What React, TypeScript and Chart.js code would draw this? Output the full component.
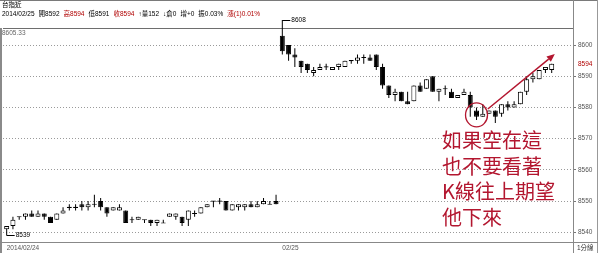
import React, { useEffect, useRef } from "react";
import { Chart, registerables } from "chart.js";
Chart.register(...registerables);

// 1-minute bars: last 44 of 2014/02/24, first 44 of 2014/02/25
const opens = [
  8541, 8542, 8545, 8545, 8546, 8545, 8546, 8545, 8544, 8546,
  8548, 8548, 8549, 8548, 8549, 8550, 8548, 8547, 8547, 8547,
  8544, 8544, 8544, 8544, 8543, 8543, 8545, 8545, 8545, 8544,
  8546, 8546, 8548, 8550, 8550, 8550, 8547, 8548, 8548, 8549,
  8548, 8549, 8549, 8550,
  8603, 8600, 8597, 8595, 8594, 8591, 8592, 8593, 8592, 8593,
  8593, 8595, 8595, 8596, 8596, 8597, 8593, 8587, 8584, 8585,
  8582, 8582, 8587, 8586, 8590, 8585, 8586, 8585, 8583, 8584,
  8584, 8579, 8577, 8578, 8579, 8578, 8581, 8580, 8581, 8585,
  8589, 8589, 8592, 8592,
];
const highs = [
  8542, 8545, 8545, 8546, 8547, 8547, 8546, 8545, 8546, 8548,
  8549, 8549, 8550, 8550, 8552, 8551, 8548, 8548, 8549, 8547,
  8545, 8545, 8544, 8544, 8544, 8544, 8546, 8546, 8545, 8547,
  8547, 8548, 8549, 8550, 8551, 8550, 8549, 8549, 8549, 8550,
  8550, 8551, 8550, 8552,
  8608, 8600, 8599, 8595, 8594, 8593, 8594, 8594, 8593, 8594,
  8595, 8595, 8597, 8597, 8597, 8597, 8594, 8587, 8586, 8585,
  8585, 8587, 8588, 8589, 8590, 8586, 8587, 8586, 8584, 8586,
  8585, 8580, 8581, 8579, 8579, 8581, 8582, 8582, 8585, 8590,
  8591, 8592, 8593, 8594,
];
const lows = [
  8539, 8541, 8544, 8544, 8545, 8545, 8544, 8543, 8544, 8546,
  8547, 8547, 8547, 8547, 8548, 8547, 8545, 8547, 8547, 8543,
  8543, 8544, 8543, 8542, 8542, 8543, 8545, 8544, 8542, 8542,
  8545, 8546, 8548, 8548, 8549, 8547, 8547, 8547, 8547, 8548,
  8548, 8549, 8549, 8549,
  8597, 8595, 8593, 8591, 8591, 8590, 8592, 8592, 8592, 8592,
  8593, 8594, 8594, 8594, 8595, 8592, 8586, 8583, 8582, 8582,
  8581, 8582, 8585, 8586, 8585, 8582, 8584, 8583, 8583, 8584,
  8577, 8576, 8577, 8578, 8575, 8577, 8579, 8580, 8581, 8584,
  8588, 8589, 8591, 8591,
];
const closes = [
  8542, 8544, 8545, 8546, 8545, 8546, 8545, 8543, 8546, 8547,
  8548, 8548, 8548, 8549, 8549, 8548, 8546, 8548, 8548, 8543,
  8544, 8545, 8544, 8543, 8544, 8543, 8546, 8546, 8543, 8547,
  8546, 8548, 8549, 8550, 8550, 8547, 8549, 8549, 8549, 8548,
  8549, 8550, 8549, 8549,
  8598, 8597, 8596, 8593, 8592, 8592, 8593, 8593, 8593, 8594,
  8595, 8595, 8596, 8596, 8595, 8593, 8587, 8584, 8585, 8582,
  8581, 8587, 8585, 8589, 8585, 8586, 8586, 8583, 8584, 8585,
  8580, 8577, 8578, 8579, 8577, 8581, 8580, 8581, 8585, 8589,
  8590, 8592, 8593, 8594,
];
const dateLabels = ["2014/02/24", "02/25"];
const dateStarts = [0, 44];
const priceTicks = [8540, 8550, 8560, 8570, 8580, 8590, 8600];
const refLine = 8605.33;
const noteLines = ["如果空在這", "也不要看著", "K線往上期望", "他下來"];
const circleAt = [75, 8577.6];
const arrowFrom = [76.8, 8579.5];
const arrowTo = [87.5, 8597.1];

const RED = "#b3162f";
const SMALL_FONT = '"Liberation Sans", "Noto Sans CJK TC", sans-serif';

export default function App() {
  const ref = useRef<HTMLCanvasElement>(null);

  useEffect(() => {
    if (!ref.current) return;
    const idx = opens.map((_, i) => i);
    const wickData = idx.map((i) => ({ x: i, y: [lows[i], highs[i]] }));
    const bodyData = idx.map((i) => {
      const o = opens[i];
      const c = closes[i];
      return o === c
        ? { x: i, y: [o - 0.17, o + 0.17] }
        : { x: i, y: [Math.min(o, c), Math.max(o, c)] };
    });
    const bodyFill = idx.map((i) => (closes[i] > opens[i] ? "#ffffff" : "#000000"));
    const maxIdx = highs.indexOf(Math.max(...highs));
    const minIdx = lows.indexOf(Math.min(...lows));
    const last = closes.length - 1;

    const marks = {
      id: "marks",
      beforeDatasetsDraw(chart: any) {
        const { ctx, chartArea, scales } = chart;
        const y = scales.y;
        const yr = Math.round(y.getPixelForValue(refLine)) + 0.5;
        ctx.save();
        ctx.strokeStyle = "#6e6e6e";
        ctx.lineWidth = 1;
        ctx.beginPath();
        ctx.moveTo(chartArea.left, yr);
        ctx.lineTo(chartArea.right, yr);
        ctx.stroke();
        ctx.fillStyle = "#666";
        ctx.font = `6.5px ${SMALL_FONT}`;
        ctx.textBaseline = "top";
        ctx.textAlign = "left";
        ctx.fillText(refLine.toFixed(2), 2, yr + 1.5);
        ctx.restore();
      },
      afterDatasetsDraw(chart: any) {
        const { ctx, chartArea, scales } = chart;
        const x = scales.x;
        const y = scales.y;
        ctx.save();
        ctx.font = `6.5px ${SMALL_FONT}`;
        ctx.textBaseline = "middle";
        ctx.textAlign = "left";
        ctx.strokeStyle = "#000";
        ctx.fillStyle = "#000";
        ctx.lineWidth = 1;
        const hx = x.getPixelForValue(maxIdx);
        const hy = Math.round(y.getPixelForValue(highs[maxIdx])) + 0.5;
        ctx.beginPath();
        ctx.moveTo(hx, hy);
        ctx.lineTo(hx + 8, hy);
        ctx.stroke();
        ctx.fillText(String(highs[maxIdx]), hx + 9, hy);
        const lx = x.getPixelForValue(minIdx);
        const ly = Math.round(y.getPixelForValue(lows[minIdx])) + 0.5;
        ctx.beginPath();
        ctx.moveTo(lx, ly);
        ctx.lineTo(lx + 8, ly);
        ctx.stroke();
        ctx.fillText(String(lows[minIdx]), lx + 9, ly);
        // current price on the axis
        ctx.fillStyle = "#b00000";
        ctx.fillText(String(closes[last]), chartArea.right + 5, y.getPixelForValue(closes[last]));
        // annotation: circle + arrow
        ctx.strokeStyle = RED;
        ctx.fillStyle = RED;
        ctx.lineWidth = 1.3;
        ctx.beginPath();
        ctx.ellipse(x.getPixelForValue(circleAt[0]), y.getPixelForValue(circleAt[1]), 11, 12, 0, 0, Math.PI * 2);
        ctx.stroke();
        const x1 = x.getPixelForValue(arrowFrom[0]);
        const y1 = y.getPixelForValue(arrowFrom[1]);
        const x2 = x.getPixelForValue(arrowTo[0]);
        const y2 = y.getPixelForValue(arrowTo[1]);
        const ang = Math.atan2(y2 - y1, x2 - x1);
        const hl = 8;
        const hw = 3.5;
        ctx.lineWidth = 1.5;
        ctx.beginPath();
        ctx.moveTo(x1, y1);
        ctx.lineTo(x2 - hl * Math.cos(ang), y2 - hl * Math.sin(ang));
        ctx.stroke();
        ctx.beginPath();
        ctx.moveTo(x2, y2);
        ctx.lineTo(x2 - hl * Math.cos(ang) + hw * Math.sin(ang), y2 - hl * Math.sin(ang) - hw * Math.cos(ang));
        ctx.lineTo(x2 - hl * Math.cos(ang) - hw * Math.sin(ang), y2 - hl * Math.sin(ang) + hw * Math.cos(ang));
        ctx.closePath();
        ctx.fill();
        ctx.restore();
      },
    };

    const chart = new Chart(ref.current, {
      type: "bar",
      data: {
        datasets: [
          {
            label: "wick",
            data: wickData as any,
            backgroundColor: "#000",
            borderWidth: 0,
            barThickness: 1,
            grouped: false,
            inflateAmount: 0,
            order: 2,
          } as any,
          {
            label: "body",
            data: bodyData as any,
            backgroundColor: bodyFill,
            borderColor: "#000",
            borderWidth: 1,
            borderSkipped: false,
            barThickness: 5,
            grouped: false,
            inflateAmount: 0,
            order: 1,
          } as any,
        ],
      },
      options: {
        animation: false,
        responsive: false,
        devicePixelRatio: 1,
        layout: { padding: { left: 3, top: 11, right: 0, bottom: 0 } },
        plugins: { legend: { display: false }, tooltip: { enabled: false } },
        scales: {
          x: {
            type: "linear",
            offset: false,
            min: -0.586,
            max: 90.4,
            afterBuildTicks: (s: any) => {
              s.ticks = dateStarts.map((v) => ({ value: v }));
            },
            afterFit: (s: any) => {
              s.height = 11;
            },
            grid: { display: false, drawTicks: false },
            border: { display: true, color: "#888" },
            ticks: {
              align: "start",
              autoSkip: false,
              maxRotation: 0,
              padding: 2,
              color: "#555",
              font: { size: 6.5, family: SMALL_FONT },
              callback: (v: any) => {
                const k = dateStarts.indexOf(Number(v));
                return k >= 0 ? dateLabels[k] : "";
              },
            },
          },
          y: {
            position: "right",
            min: 8536.9,
            max: 8610.9,
            afterBuildTicks: (s: any) => {
              s.ticks = priceTicks.map((v) => ({ value: v }));
            },
            afterFit: (s: any) => {
              s.width = 27;
            },
            grid: {
              color: "#9a9a9a",
              lineWidth: 1,
              drawTicks: true,
              tickLength: 3,
              tickColor: "#777",
              tickBorderDash: [],
            },
            border: { display: true, color: "#888", dash: [1, 2] },
            ticks: {
              autoSkip: false,
              padding: 2,
              color: "#555",
              font: { size: 6.5, family: SMALL_FONT },
              callback: (v: any) => String(v),
            },
          },
        },
      } as any,
      plugins: [marks],
    });
    return () => chart.destroy();
  }, []);

  const line = (style: React.CSSProperties) => (
    <div style={{ position: "absolute", background: "#888", ...style }} />
  );

  return (
    <div
      style={{
        position: "fixed",
        left: 0,
        top: 0,
        width: 600,
        height: 253,
        background: "#fff",
        overflow: "hidden",
      }}
    >
      <canvas ref={ref} width={600} height={253} style={{ position: "absolute", left: 0, top: 0 }} />
      {line({ left: 0, top: 0, width: 598, height: 1, background: "#7a7a7a" })}
      {line({ left: 0, top: 28, width: 2, height: 225, background: "#8a8a8a" })}
      {line({ left: 573, top: 0, width: 1, height: 253 })}
      {line({ left: 597, top: 0, width: 1, height: 253, background: "#999" })}
      {line({ left: 0, top: 242, width: 598, height: 1 })}
      <div
        style={{
          position: "absolute",
          left: 2,
          top: 1,
          fontFamily: SMALL_FONT,
          fontSize: 6.5,
          lineHeight: "8px",
          color: "#000",
        }}
      >
        台指近
      </div>
      <div
        style={{
          position: "absolute",
          left: 2,
          top: 10,
          fontFamily: SMALL_FONT,
          fontSize: 6.5,
          lineHeight: "8px",
          color: "#000",
          whiteSpace: "nowrap",
          display: "flex",
          gap: 4,
        }}
      >
        <span>2014/02/25</span>
        <span>開8592</span>
        <span style={{ color: "#b00000" }}>高8594</span>
        <span>低8591</span>
        <span style={{ color: "#b00000" }}>收8594</span>
        <span>↑量152</span>
        <span>↓倉0</span>
        <span>增+0</span>
        <span>振0.03%</span>
        <span style={{ color: "#b00000" }}>漲(1)0.01%</span>
      </div>
      <div
        style={{
          position: "absolute",
          left: 577,
          top: 244,
          fontFamily: SMALL_FONT,
          fontSize: 6.5,
          lineHeight: "8px",
          color: "#333",
        }}
      >
        1分線
      </div>
      <div
        style={{
          position: "absolute",
          left: 442,
          top: 127,
          fontFamily: '"Noto Sans CJK TC", sans-serif',
          fontSize: 20,
          lineHeight: "25.5px",
          color: RED,
          whiteSpace: "nowrap",
        }}
      >
        {noteLines.map((t) => (
          <div key={t}>{t}</div>
        ))}
      </div>
    </div>
  );
}
